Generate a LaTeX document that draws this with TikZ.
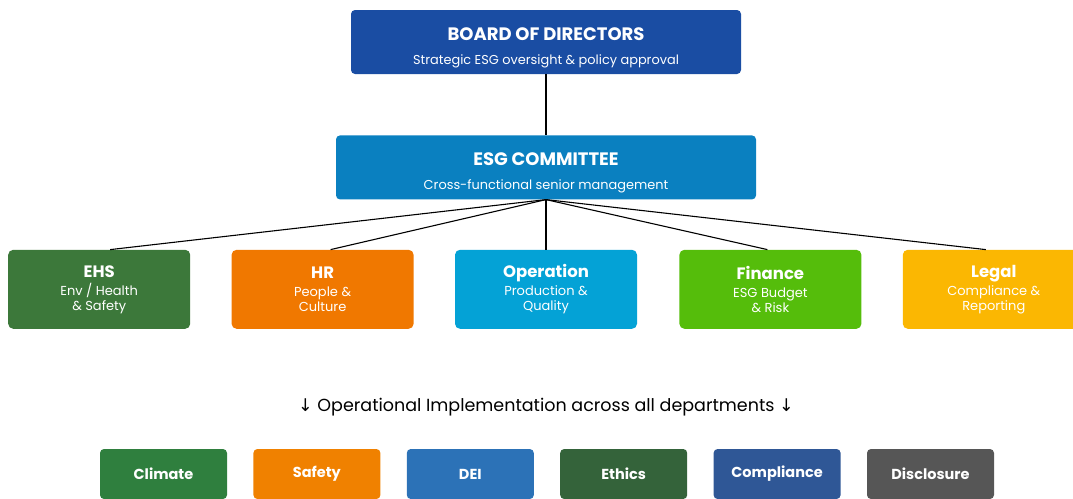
\documentclass[tikz,border=0pt]{standalone}
\usepackage{fontspec}
\setmainfont{Poppins}
\newfontfamily\arrowfont{DejaVu Sans}
\usetikzlibrary{positioning}

\definecolor{boardblue}{HTML}{1A4DA3}
\definecolor{committeeblue}{HTML}{0A80C0}
\definecolor{ehsgreen}{HTML}{3C783A}
\definecolor{hrorange}{HTML}{F07800}
\definecolor{opcyan}{HTML}{04A2D6}
\definecolor{financegreen}{HTML}{55BD0B}
\definecolor{legalyellow}{HTML}{FBB702}
\definecolor{climategreen}{HTML}{2F7F3E}
\definecolor{safetyorange}{HTML}{F08100}
\definecolor{deiblue}{HTML}{2C72B7}
\definecolor{ethicsgreen}{HTML}{34633A}
\definecolor{complianceblue}{HTML}{2F5796}
\definecolor{disclosuregray}{HTML}{565656}

\newcommand{\leadtitle}{\rule{0pt}{24pt}\bfseries\fontsize{18}{20}\selectfont}
\newcommand{\leadsub}{\fontsize{12.9}{15}\selectfont}
\newcommand{\depttitle}{\bfseries\fontsize{16.5}{18}\selectfont}
\newcommand{\deptsub}{\fontsize{13}{15}\selectfont}

\begin{document}
\begin{tikzpicture}[
    x=1pt, y=-1pt,
    every node/.style={text=white, align=center, inner sep=0pt},
    lead/.style={fill=#1, rounded corners=4pt, minimum height=64pt, font=\leadsub},
    dept/.style={fill=#1, rounded corners=5pt, minimum width=182pt, minimum height=79pt,
      font=\deptsub},
    area/.style={fill=#1, rounded corners=4pt, minimum width=127pt, minimum height=50pt,
      font=\bfseries\fontsize{14.5}{16}\selectfont},
    link/.style={draw=black, line width=1.1pt},
  ]
  \useasboundingbox (0,0) rectangle (1073,498);

  % Leadership
  \node[lead=boardblue, minimum width=390pt] (board) at (546,42)
    {{\leadtitle BOARD OF DIRECTORS}\\[9pt]
     Strategic ESG oversight \& policy approval};
  \node[lead=committeeblue, minimum width=420pt, below=61pt of board] (committee)
    {{\leadtitle ESG COMMITTEE}\\[9pt]
     Cross-functional senior management};

  % Departments
  \node[dept=opcyan, below=50pt of committee] (operation)
    {{\depttitle Operation}\\[3pt]Production \&\\Quality};
  \node[dept=hrorange, left=41pt of operation] (hr)
    {{\depttitle HR}\\[3pt]People \&\\Culture};
  \node[dept=ehsgreen, left=41pt of hr] (ehs)
    {{\depttitle EHS}\\[3pt]Env / Health\\\& Safety};
  \node[dept=financegreen, right=42pt of operation] (finance)
    {{\depttitle Finance}\\[3pt]ESG Budget\\\& Risk};
  \node[dept=legalyellow, right=41pt of finance] (legal)
    {{\depttitle Legal}\\[3pt]Compliance \&\\Reporting};

  % Connectors
  \draw[link] (board) -- (committee);
  \foreach \d/\s in {ehs/11, hr/8, operation/0, finance/-3, legal/-8}
    \draw[link] (committee.south) -- ([xshift=\s pt]\d.north);

  % Implementation note
  \node[text=black, font=\fontsize{17.5}{20}\selectfont] (note) at (546,407)
    {{\arrowfont ↓} Operational Implementation across all departments {\arrowfont ↓}};

  % Focus areas
  \node[area=climategreen] (climate) at (163.5,474) {Climate};
  \node[area=safetyorange, right=26pt of climate] (safety) {Safety};
  \node[area=deiblue, right=26pt of safety] (dei) {DEI};
  \node[area=ethicsgreen, right=26pt of dei] (ethics) {Ethics};
  \node[area=complianceblue, right=26pt of ethics] (compliance) {Compliance};
  \node[area=disclosuregray, right=26pt of compliance] (disclosure) {Disclosure};
\end{tikzpicture}
\end{document}
